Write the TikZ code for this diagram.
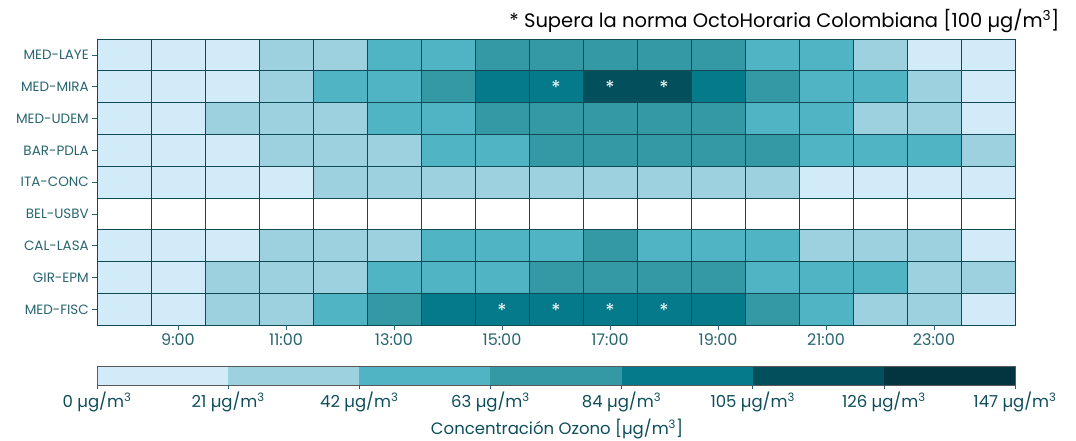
\documentclass[tikz,border=0pt]{standalone}
\usepackage{fontspec}
\setmainfont{Poppins}
\usetikzlibrary{positioning}
\definecolor{oz0}{HTML}{FFFFFF}
\definecolor{oz1}{HTML}{D1ECF8}
\definecolor{oz2}{HTML}{9DD1E0}
\definecolor{oz3}{HTML}{51B4C4}
\definecolor{oz4}{HTML}{3598A5}
\definecolor{oz5}{HTML}{047A8A}
\definecolor{oz6}{HTML}{03505C}
\definecolor{oz7}{HTML}{023540}
\definecolor{gridline}{HTML}{0F4A55}
\definecolor{labtext}{HTML}{27656F}
\definecolor{bartext}{HTML}{0E4D5A}

\begin{document}
\begin{tikzpicture}[x=1pt, y=1pt, font=\fontsize{13.5}{15}\selectfont,
cell/.style={rectangle, draw=gridline, line width=0.7pt, minimum width=54pt, minimum height=31.8pt, inner sep=0pt, outer sep=0pt},
rowlab/.style={text=labtext, inner sep=0pt},
collab/.style={text=labtext, font=\fontsize{16}{18}\selectfont, inner sep=0pt},
starmark/.style={text=white, font=\fontsize{19}{21}\selectfont, inner sep=0pt},
binbox/.style={rectangle, minimum width=131.14pt, minimum height=19pt, inner sep=0pt, outer sep=0pt, anchor=south west},
barlab/.style={text=bartext, font=\fontsize{16.5}{18}\selectfont, inner sep=0pt},
tickline/.style={draw=labtext, line width=0.7pt}]
 \useasboundingbox (0,0) rectangle (1076,440);

 \node[anchor=east, font=\fontsize{19.5}{22}\selectfont] (note) at (1063,419) {* Supera la norma OctoHoraria Colombiana [100 µg/m\textsuperscript{3}]};

 % heatmap
 \foreach \st/\vals [count=\r from 0] in {
   MED-LAYE/{1,1,1,2,2,3,3,4,4,4,4,4,3,3,2,1,1},
   MED-MIRA/{1,1,1,2,3,3,4,5,5,6,6,5,4,3,3,2,1},
   MED-UDEM/{1,1,2,2,2,3,3,4,4,4,4,4,3,3,2,2,1},
   BAR-PDLA/{1,1,1,2,2,2,3,3,4,4,4,4,4,3,3,3,2},
   ITA-CONC/{1,1,1,1,2,2,2,2,2,2,2,2,2,1,1,1,1},
   BEL-USBV/{0,0,0,0,0,0,0,0,0,0,0,0,0,0,0,0,0},
   CAL-LASA/{1,1,1,2,2,2,3,3,3,4,3,3,3,2,2,2,1},
   GIR-EPM/{1,1,2,2,2,3,3,3,4,4,4,4,3,3,3,2,2},
   MED-FISC/{1,1,2,2,3,4,5,5,5,5,5,5,4,3,2,2,1}} {
   \foreach \v [count=\c from 0] in \vals
     \node[cell, fill=oz\v] (cell-\r-\c) at ({124+54*\c}, {385.1-31.8*\r}) {};
   \draw[tickline] (cell-\r-0.west) -- ++(-5,0) coordinate (rtick-\r);
   \node[rowlab, left=3pt of rtick-\r] (station-\r) {\st};
 }

 \foreach \r/\c in {1/8,1/9,1/10,8/7,8/8,8/9,8/10}
   \node[starmark] (star-\r-\c) at ([yshift=-1pt]cell-\r-\c) {*};

 \foreach \c/\h in {1/9,3/11,5/13,7/15,9/17,11/19,13/21,15/23} {
   \draw[tickline] (cell-8-\c.south) -- ++(0,-5) coordinate (ctick-\c);
   \node[collab, below=3pt of ctick-\c] (hour-\c) {\h:00};
 }

 % colorbar
 \foreach \v [count=\k from 0] in {1,...,7}
   \node[binbox, fill=oz\v] (bin-\v) at ({97+131.14*\k}, 55) {};
 \draw[black!65, line width=0.8pt] (bin-1.south west) rectangle (bin-7.north east);
 \foreach \lab [count=\k from 0] in {0,21,42,63,84,105,126,147} {
   \coordinate (btop-\k) at ({97+131.14*\k}, 55);
   \draw[tickline] (btop-\k) -- ++(0,-4) coordinate (btick-\k);
   \node[barlab, below=3pt of btick-\k] (val-\k) {\lab\ µg/m\textsuperscript{3}};
 }
 \node[barlab] (bartitle) at (557,11) {Concentración Ozono [µg/m\textsuperscript{3}]};
\end{tikzpicture}
\end{document}
